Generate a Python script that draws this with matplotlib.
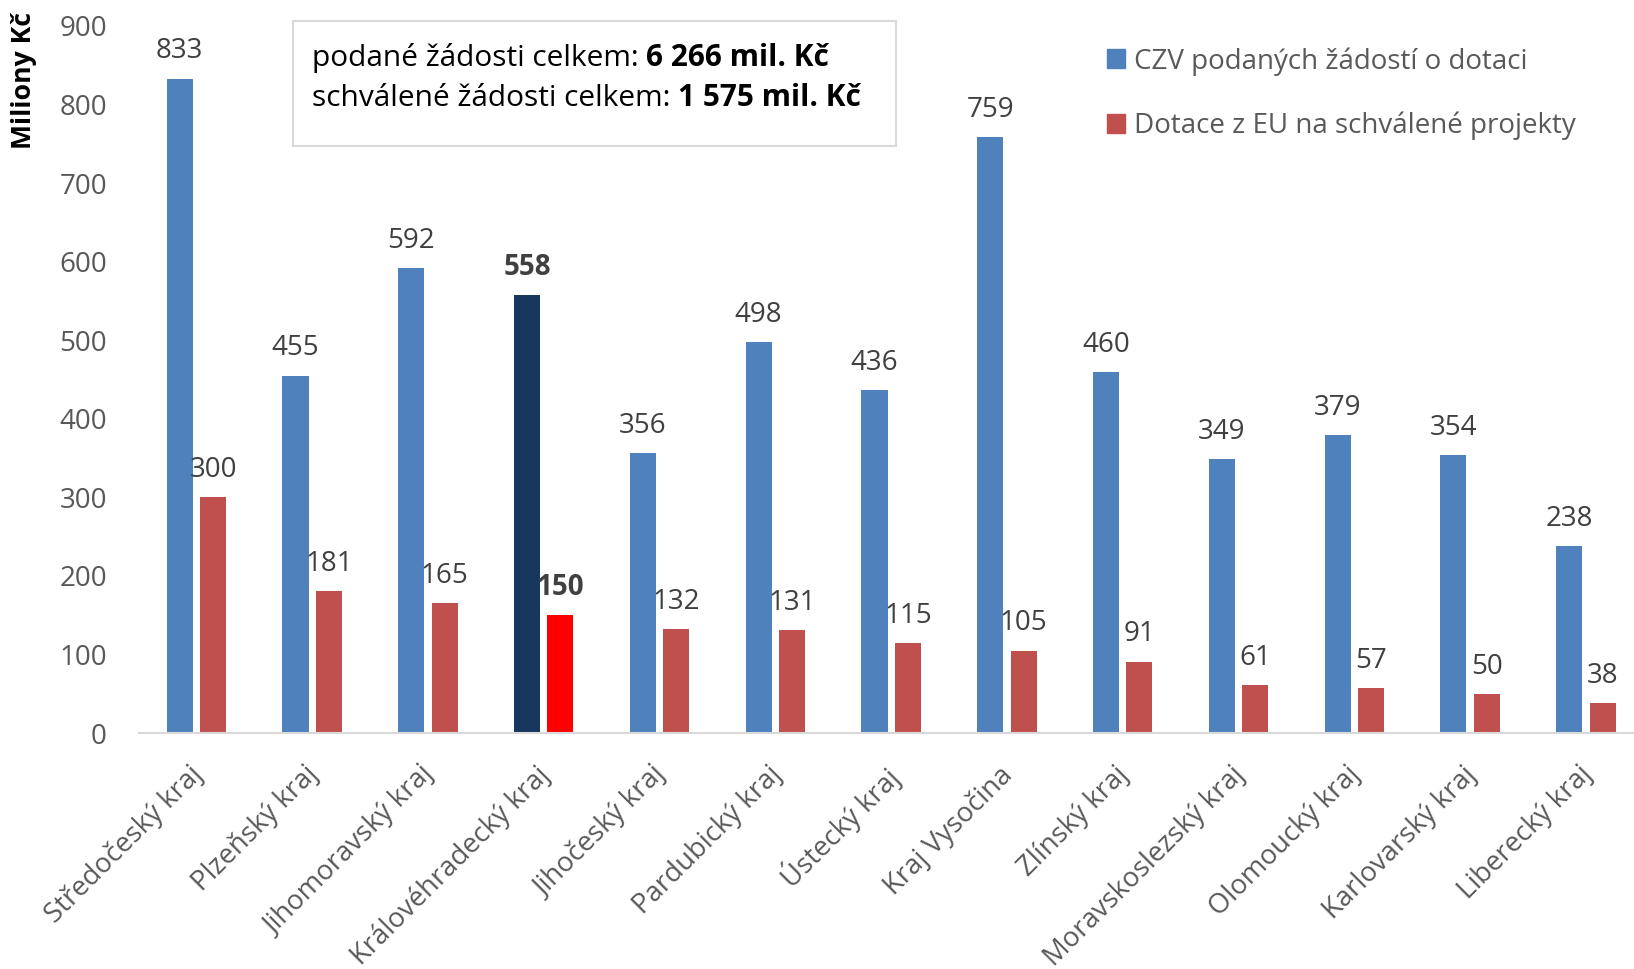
import matplotlib
matplotlib.use("Agg")
import matplotlib.pyplot as plt
import matplotlib.transforms as mtransforms
import numpy as np
from matplotlib.patches import Patch, Rectangle
from matplotlib.text import Annotation

categories = ["Středočeský kraj", "Plzeňský kraj", "Jihomoravský kraj", "Královéhradecký kraj",
              "Jihočeský kraj", "Pardubický kraj", "Ústecký kraj", "Kraj Vysočina", "Zlínský kraj",
              "Moravskoslezský kraj", "Olomoucký kraj", "Karlovarský kraj", "Liberecký kraj"]
submitted = [833, 455, 592, 558, 356, 498, 436, 759, 460, 349, 379, 354, 238]
approved = [300, 181, 165, 150, 132, 131, 115, 105, 91, 61, 57, 50, 38]
highlight = 3
series_names = ["CZV podaných žádostí o dotaci", "Dotace z EU na schválené projekty"]
yticks = [0, 100, 200, 300, 400, 500, 600, 700, 800, 900]
box_labels = ["podané žádosti celkem: ", "schválené žádosti celkem: "]
box_values = ["6 266 mil. Kč", "1 575 mil. Kč"]

plt.rcParams['font.family'] = ['Open Sans', 'DejaVu Sans']

BLUE = "#4F81BD"
RED = "#C0504D"
DARK = "#17375E"
BRIGHT = "#FF0000"
GRAY = "#595959"
LABEL = "#404040"

W, H = 1634, 969
fig = plt.figure(figsize=(W / 100, H / 100), dpi=100)
left = 138.5 / W
bottom = 1 - 733 / H
top = 1 - 26 / H
ax = fig.add_axes([left, bottom, 1.006 - left, top - bottom])

x = np.arange(len(categories))
bw = 0.225
off = 0.144
bcol = [DARK if i == highlight else BLUE for i in x]
rcol = [BRIGHT if i == highlight else RED for i in x]
ax.bar(x - off, submitted, width=bw, color=bcol, zorder=2)
ax.bar(x + off, approved, width=bw, color=rcol, zorder=2)

for i in x:
    fw = 'bold' if i == highlight else 'normal'
    ax.annotate(str(submitted[i]), (x[i] - off, submitted[i]), xytext=(0, 14.5),
                textcoords='offset points', ha='center', va='baseline',
                fontsize=20, color=LABEL, fontweight=fw)
    ax.annotate(str(approved[i]), (x[i] + off, approved[i]), xytext=(0, 14.5),
                textcoords='offset points', ha='center', va='baseline',
                fontsize=20, color=LABEL, fontweight=fw)

ax.set_xlim(-0.5, len(categories) - 0.5)
ax.set_ylim(0, 900)
ax.set_yticks(yticks)
ax.set_yticklabels([str(v) for v in yticks], fontsize=20, color=GRAY)
ax.set_xticks(x)
ax.set_xticklabels(categories, rotation=45, ha='right', rotation_mode='anchor',
                   fontsize=19.8, color=GRAY)
ax.tick_params(axis='both', length=0)
ax.tick_params(axis='x', pad=20)
ax.tick_params(axis='y', pad=22.7)
shift = mtransforms.ScaledTranslation(-8 / 100, 0, fig.dpi_scale_trans)
for lab in ax.get_xticklabels():
    lab.set_transform(lab.get_transform() + shift)
for s in ['top', 'right', 'left']:
    ax.spines[s].set_visible(False)
ax.spines['bottom'].set_color('#D9D9D9')
ax.spines['bottom'].set_linewidth(1.5)

fig.text(24 / W, 1 - 12 / H, "Miliony Kč", rotation=90, ha='center', va='top',
         fontsize=19.2, fontweight='bold', color='black')

# text box
fig.patches.append(Rectangle((293 / W, 1 - 146 / H), (896 - 293) / W, (146 - 21) / H,
                             transform=fig.transFigure, facecolor='white',
                             edgecolor='#D9D9D9', linewidth=1.5, zorder=3))
for k, yy in enumerate([66, 106]):
    t1 = fig.text(312 / W, 1 - yy / H, box_labels[k], ha='left', va='baseline',
                  fontsize=21.5, color='black', zorder=4)
    ann = Annotation(box_values[k], xy=(1, 0), xycoords=t1, xytext=(0, 0),
                     textcoords='offset points', ha='left', va='bottom',
                     fontsize=21.5, fontweight='bold', color='black', zorder=5,
                     annotation_clip=False)
    fig.add_artist(ann)

handles = [Patch(color=BLUE), Patch(color=RED)]
leg = ax.legend(handles, series_names, loc='upper left', bbox_to_anchor=(1107 / W, 1 - 47 / H),
                bbox_transform=fig.transFigure, frameon=False, fontsize=20,
                handlelength=0.65, handleheight=0.65, handletextpad=0.32, labelspacing=1.3,
                borderaxespad=0, borderpad=0)
for t in leg.get_texts():
    t.set_color(GRAY)

fig.savefig("out.png", dpi=100)
